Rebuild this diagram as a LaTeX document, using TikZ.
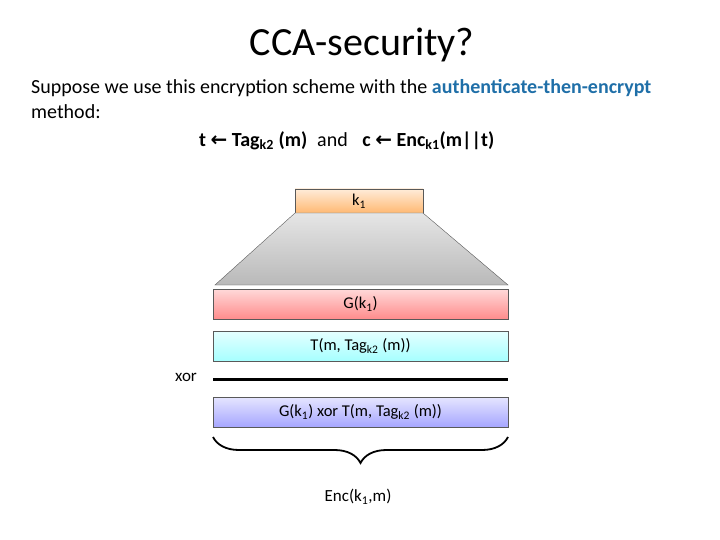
\documentclass[tikz,border=0pt]{standalone}
\usepackage{fontspec}
\setmainfont{Carlito}
\newfontfamily\arrowfont{DejaVu Sans}
\usetikzlibrary{decorations.pathreplacing}
\begin{document}
\begin{tikzpicture}[x=1pt,y=-1pt,
  bar/.style={draw=gray!70!black,line width=0.4pt,minimum height=30pt,minimum width=295pt,inner sep=0pt,font=\fontsize{16.5}{19}\selectfont},
  txt/.style={inner sep=0pt,anchor=west,font=\fontsize{20}{24}\selectfont}]
\useasboundingbox (0,0) rectangle (720,540);
\node[inner sep=0pt,font=\fontsize{40}{46}\selectfont] (title) at (362,45) {CCA-security?};
\node[txt] (l1) at (31,88) {Suppose we use this encryption scheme with the \textcolor[HTML]{1F6FA8}{\textbf{authenticate-then-encrypt}}};
\node[txt] (l2) at (31,112) {method:};
\node[txt] (l3) at (199,141) {\textbf{t {\arrowfont\bfseries ←} Tag\textsubscript{k2} (m)}\enspace and\enspace\ \textbf{c {\arrowfont\bfseries ←} Enc\textsubscript{k1}(m||t)}};
\node[bar,minimum width=128pt,minimum height=24pt,top color=orange!15,bottom color=orange!55] (k1) at (359,201) {k\textsubscript{1}};
\path[draw=gray!70!black,top color=gray!20,bottom color=gray!55] (295,213) -- (423,213) -- (508,285) -- (215,285) -- cycle;
\node[bar,top color=red!15,bottom color=red!45] (g) at (360.5,304) {G(k\textsubscript{1})};
\node[bar,top color=cyan!10,bottom color=cyan!35] (t) at (360.5,346) {T(m, Tag\textsubscript{k2} (m))};
\node[inner sep=0pt,font=\fontsize{17}{20}\selectfont] (xor) at (186,377) {xor};
\coordinate (la) at (213,379);
\coordinate (lb) at (508,379);
\draw[line width=3pt] (la) -- (lb);
\node[bar,top color=blue!10,bottom color=blue!35] (x) at (360.5,412) {G(k\textsubscript{1}) xor T(m, Tag\textsubscript{k2} (m))};
\coordinate (ba) at (213,437);
\coordinate (bb) at (508,437);
\draw[line width=1.8pt,decorate,decoration={brace,amplitude=26pt,mirror,aspect=0.5}] (ba) -- (bb);
\node[inner sep=0pt,font=\fontsize{17}{20}\selectfont] (enc) at (358,497) {Enc(k\textsubscript{1},m)};
\end{tikzpicture}
\end{document}
